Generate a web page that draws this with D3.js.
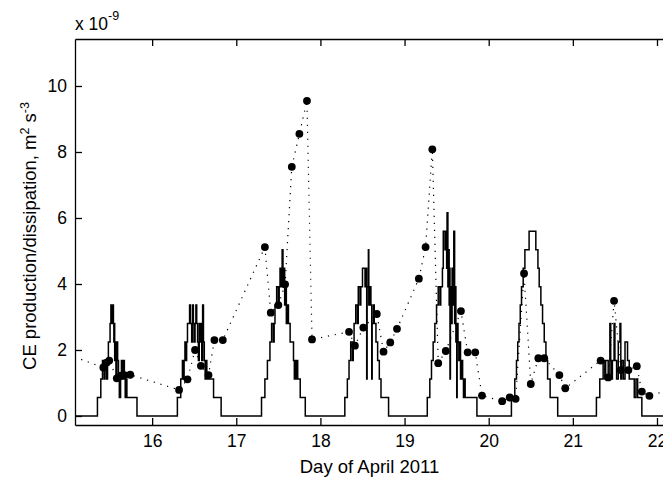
<!DOCTYPE html>
<html><head><meta charset="utf-8">
<script src="https://cdn.jsdelivr.net/npm/d3@7"></script>
<style>
body{margin:0;background:#fff}
svg{display:block;background:#fff}
text{font-family:"Liberation Sans",Arial,Helvetica,sans-serif;fill:#000}
</style>
</head><body>
<svg id="chart" width="663" height="483"></svg>
<script>
// ---- data ----
const xTicks = [16, 17, 18, 19, 20, 21, 22];
const yTicks = [0, 2, 4, 6, 8, 10];
const xLimits = [15.0833, 22.0833];
const yLimits = [-0.273, 11.424];

// stair-step production series (day, value x1e-9)
const stepDays = [
  15.0, 15.35, 15.39, 15.41, 15.43, 15.44, 15.46, 15.47, 15.48, 15.50, 15.51, 15.525, 15.53, 15.54, 15.545, 15.55, 15.555, 15.56, 15.57, 15.58, 15.59, 15.60, 15.61, 15.625, 15.635, 15.645, 15.66, 15.67, 15.68, 15.69, 15.70, 15.82,
  16.30, 16.34, 16.36, 16.375, 16.38, 16.39, 16.40, 16.41, 16.42, 16.445, 16.455, 16.47, 16.48, 16.49, 16.50, 16.51, 16.52, 16.53, 16.54, 16.55, 16.56, 16.57, 16.58, 16.59, 16.60, 16.61, 16.62, 16.63, 16.64, 16.65, 16.73, 16.82,
  17.30, 17.34, 17.37, 17.40, 17.42, 17.44, 17.45, 17.46, 17.48, 17.50, 17.51, 17.52, 17.535, 17.545, 17.555, 17.565, 17.575, 17.585, 17.595, 17.61, 17.62, 17.64, 17.66, 17.68, 17.69, 17.70, 17.71, 17.72, 17.73, 17.76, 17.82,
  18.29, 18.32, 18.34, 18.36, 18.38, 18.39, 18.40, 18.42, 18.44, 18.45, 18.47, 18.48, 18.50, 18.53, 18.54, 18.55, 18.555, 18.57, 18.575, 18.585, 18.60, 18.61, 18.615, 18.63, 18.64, 18.66, 18.68, 18.70, 18.72, 18.81,
  19.27, 19.30, 19.32, 19.34, 19.36, 19.38, 19.40, 19.42, 19.43, 19.45, 19.46, 19.48, 19.49, 19.50, 19.505, 19.515, 19.52, 19.53, 19.535, 19.54, 19.545, 19.555, 19.565, 19.575, 19.585, 19.595, 19.60, 19.61, 19.62, 19.625, 19.635, 19.645, 19.655, 19.665, 19.675, 19.69, 19.70, 19.705, 19.72, 19.86,
  20.27, 20.31, 20.33, 20.345, 20.36, 20.375, 20.39, 20.41, 20.43, 20.48, 20.56, 20.585, 20.60, 20.62, 20.64, 20.66, 20.68, 20.70, 20.73, 20.82,
  21.28, 21.32, 21.36, 21.38, 21.39, 21.42, 21.44, 21.45, 21.46, 21.47, 21.49, 21.50, 21.52, 21.54, 21.56, 21.57, 21.58, 21.60, 21.62, 21.65, 21.67, 21.73, 21.75, 21.77, 21.82, 22.2
];
const stepValues = [
  0, 0.56, 1.12, 1.68, 1.12, 1.68, 1.12, 1.68, 2.24, 2.8, 3.36, 2.8, 3.36, 2.8, 2.24, 2.8, 1.68, 2.24, 1.12, 2.24, 1.68, 1.12, 0.56, 1.12, 1.68, 1.12, 1.68, 1.12, 0.56, 1.12, 0.56, 0,
  0.56, 1.12, 1.68, 1.12, 1.68, 2.24, 1.68, 2.24, 2.8, 3.36, 2.8, 2.24, 3.36, 2.8, 2.24, 2.8, 3.36, 2.8, 2.24, 1.68, 2.8, 2.24, 2.8, 1.68, 3.36, 2.24, 1.68, 1.12, 1.68, 1.12, 0.56, 0,
  0.56, 1.12, 1.68, 2.24, 2.8, 2.24, 2.8, 3.36, 3.92, 3.36, 3.92, 4.48, 3.92, 5.04, 3.92, 4.48, 3.36, 3.92, 2.8, 3.36, 2.8, 2.24, 2.24, 1.68, 1.12, 1.68, 1.12, 1.68, 1.12, 0.56, 0,
  0.56, 1.12, 1.68, 2.24, 1.68, 2.24, 2.8, 3.36, 2.8, 3.92, 3.36, 3.92, 4.48, 3.92, 4.48, 1.12, 3.92, 5.04, 3.36, 3.92, 3.36, 1.12, 2.8, 3.36, 2.8, 2.24, 1.68, 1.12, 0.56, 0,
  0.56, 1.12, 1.68, 2.24, 2.8, 3.36, 3.92, 3.36, 3.92, 4.48, 5.6, 5.04, 5.6, 4.48, 6.16, 3.92, 5.04, 3.36, 4.48, 1.12, 3.92, 2.8, 4.48, 3.36, 5.6, 2.8, 3.92, 2.24, 0.56, 2.8, 2.24, 1.68, 2.24, 1.12, 1.68, 1.12, 0.56, 1.12, 0.56, 0,
  0.56, 1.12, 1.68, 2.24, 2.8, 3.36, 3.92, 4.48, 5.04, 5.6, 5.04, 4.48, 3.92, 3.36, 2.8, 2.24, 1.68, 1.12, 0.56, 0,
  0.56, 1.12, 1.68, 1.12, 1.68, 1.12, 2.8, 1.68, 1.12, 1.68, 2.8, 1.68, 1.12, 2.24, 2.8, 1.12, 1.68, 1.12, 2.24, 1.68, 1.12, 0.56, 1.12, 0.56, 0, 0
];

// dissipation estimates (dots joined by dotted line)
const dotDays = [
  15.0, 15.42, 15.46, 15.49, 15.58, 15.63, 15.67, 15.74,
  16.32, 16.42, 16.51, 16.58, 16.67, 16.74, 16.84,
  17.34, 17.41, 17.50, 17.58, 17.66, 17.75, 17.84, 17.90,
  18.34, 18.41, 18.51, 18.67, 18.75, 18.83, 18.91,
  19.17, 19.25, 19.33, 19.40, 19.49, 19.67, 19.75, 19.84, 19.92,
  20.16, 20.25, 20.32, 20.42, 20.50, 20.59, 20.66, 20.84, 20.91,
  21.33, 21.42, 21.49, 21.57, 21.66, 21.76, 21.82, 21.91, 22.15
];
const dotValues = [
  1.86, 1.47, 1.62, 1.68, 1.14, 1.22, 1.24, 1.25,
  0.79, 1.11, 2.0, 1.52, 1.24, 2.30, 2.30,
  5.12, 3.13, 3.36, 3.99, 7.55, 8.55, 9.55, 2.32,
  2.55, 2.13, 2.68, 3.09, 1.95, 2.23, 2.64,
  4.16, 5.12, 8.08, 1.60, 1.97, 3.18, 1.93, 1.93, 0.62,
  0.45, 0.56, 0.52, 4.32, 0.97, 1.75, 1.75, 1.24, 0.84,
  1.68, 1.17, 3.49, 1.39, 1.39, 1.51, 0.74, 0.61, 0.80
];

// ---- layout ----
const svg = d3.select("#chart");
const L = 75, R = 664, T = 39, B = 425;
const x = d3.scaleLinear().domain(xLimits).range([L, R]);
const y = d3.scaleLinear().domain(yLimits).range([B, T]);
const FS = 17.5, FL = 18.5;

svg.append("defs").append("clipPath").attr("id", "clip")
  .append("rect").attr("x", L).attr("y", T).attr("width", R - L).attr("height", B - T);

const plot = svg.append("g").attr("clip-path", "url(#clip)");

const steps = stepDays.map((d, i) => [d, stepValues[i]]);
plot.append("path")
  .datum(steps)
  .attr("fill", "none")
  .attr("stroke", "#000")
  .attr("stroke-width", 1.5)
  .attr("d", d3.line().x(d => x(d[0])).y(d => y(d[1])).curve(d3.curveStepAfter));

const dots = dotDays.map((d, i) => [d, dotValues[i]]);
plot.append("path")
  .datum(dots)
  .attr("fill", "none")
  .attr("stroke", "#000")
  .attr("stroke-width", 1.2)
  .attr("stroke-dasharray", "1.2,5.8")
  .attr("d", d3.line().x(d => x(d[0])).y(d => y(d[1])));

plot.selectAll("circle.dot").data(dots).join("circle")
  .attr("class", "dot")
  .attr("cx", d => x(d[0])).attr("cy", d => y(d[1])).attr("r", 3.9)
  .attr("fill", "#000");

// ---- axes ----
function styleAxis(g) {
  g.selectAll("path.domain").attr("stroke", "#000").attr("stroke-width", 1.3).attr("fill", "none");
  g.selectAll(".tick line").attr("stroke", "#000").attr("stroke-width", 1.3);
  g.selectAll("text").style("font-size", FS + "px").attr("fill", "#000");
}
svg.append("g").attr("transform", `translate(0,${B})`)
  .call(d3.axisBottom(x).tickValues(xTicks).tickSize(-7).tickSizeOuter(0).tickPadding(10).tickFormat(d3.format("d")))
  .call(styleAxis);
svg.append("g").attr("transform", `translate(0,${T})`)
  .call(d3.axisTop(x).tickValues(xTicks).tickSize(-7).tickSizeOuter(0).tickFormat(""))
  .call(styleAxis);
svg.append("g").attr("transform", `translate(${L},0)`)
  .call(d3.axisLeft(y).tickValues(yTicks).tickSize(-7).tickSizeOuter(0).tickPadding(8).tickFormat(d3.format("d")))
  .call(styleAxis);

// ---- labels ----
svg.append("text")
  .attr("x", (L + R) / 2).attr("y", 473)
  .attr("text-anchor", "middle").style("font-size", FL + "px")
  .text("Day of April 2011");

const yl = svg.append("text")
  .attr("transform", `translate(36,236) rotate(-90)`)
  .attr("text-anchor", "middle").style("font-size", FL + "px");
yl.append("tspan").text("CE production/dissipation, m");
yl.append("tspan").attr("dy", -7).style("font-size", "12.5px").text("2");
yl.append("tspan").attr("dy", 7).text(" s");
yl.append("tspan").attr("dy", -7).style("font-size", "12.5px").text("-3");

const ex = svg.append("text").attr("x", L).attr("y", 30).style("font-size", FS + "px");
ex.append("tspan").text("x 10");
ex.append("tspan").attr("dy", -10).style("font-size", "12.5px").text("-9");
</script>
</body></html>
